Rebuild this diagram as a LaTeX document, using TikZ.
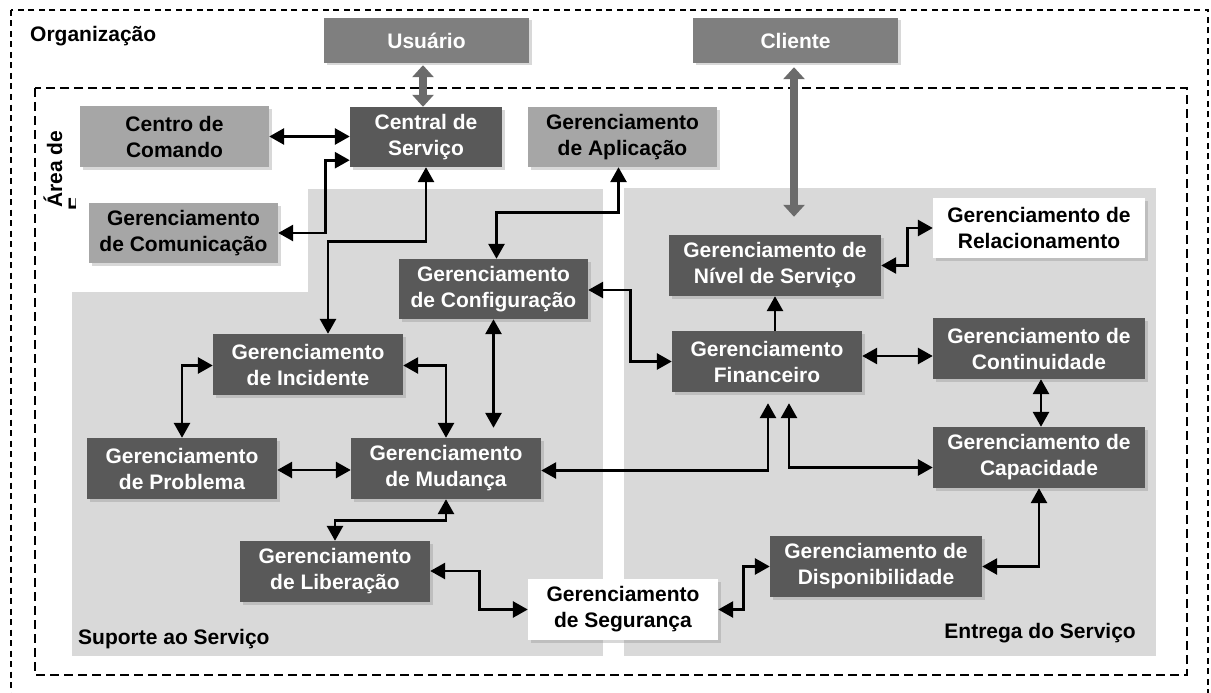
\documentclass[tikz,border=0pt]{standalone}
\usepackage{fontspec}
\setmainfont{Liberation Sans}
\usetikzlibrary{arrows.meta,shadows,calc}

\definecolor{darkbox}{HTML}{595959}
\definecolor{midbox}{HTML}{7F7F7F}
\definecolor{lightbox}{HTML}{A6A6A6}
\definecolor{area}{HTML}{D9D9D9}
\definecolor{fatarrow}{HTML}{6B6B6B}

\begin{document}
\begin{tikzpicture}[x=1pt,y=-1pt,
  txt/.style={font=\bfseries\fontsize{21}{26}\selectfont},
  box/.style={txt, rectangle, inner sep=0pt, align=center,
    minimum height=61pt, minimum width=190pt,
    drop shadow={shadow xshift=2.5pt, shadow yshift=-2.5pt, opacity=0.3}},
  wide/.style={minimum width=212pt},
  darkb/.style={box, fill=darkbox, text=white},
  midb/.style={box, fill=midbox, text=white, minimum height=45pt, minimum width=205pt},
  lightb/.style={box, fill=lightbox, text=black},
  whiteb/.style={box, fill=white, text=black},
  tip/.style={},
  dbl/.style={line width=2.8pt, {Triangle[length=15pt,width=16pt]}-{Triangle[length=15pt,width=16pt]}},
  sgl/.style={line width=2.8pt, -{Triangle[length=15pt,width=16pt]}},
  fat/.style={line width=8pt, draw=fatarrow, {Triangle[length=12pt,width=21pt]}-{Triangle[length=12pt,width=21pt]}},
  frame/.style={draw=black, line width=1.4pt, dash pattern=on 7pt off 4.5pt},
]
\useasboundingbox (0,0) rectangle (1211,693);
\clip (0,0) rectangle (1211,693);
\fill[white] (0,0) rectangle (1211,693);

% service areas
\fill[area] (72,189) rectangle (603,656);
\fill[area] (624,188) rectangle (1156,656);
\fill[white] (72,189) rectangle (308,292);

% rotated area caption
\node[txt, rotate=90, anchor=base west, inner sep=0pt] (areacap) at (62,208) {Área de};
\begin{scope}
  \clip (64,196) rectangle (75,213);
  \node[txt, rotate=90, anchor=base west, inner sep=0pt] (areacap2) at (83,211) {F};
\end{scope}

% dashed frames
\draw[frame, line width=1.2pt, dash pattern=on 6pt off 4.5pt] (11,10) rectangle (1208,720);
\draw[frame, line width=1.8pt, dash pattern=on 9pt off 5pt] (35,88) rectangle (1187,675);

% captions
\node[txt, anchor=west, inner sep=0pt] (org) at (30,36) {Organização};
\node[txt, anchor=west, inner sep=0pt] (sup) at (78,639) {Suporte ao Serviço};
\node[txt, anchor=east, inner sep=0pt] (ent) at (1136,633) {Entrega do Serviço};

% boxes
\node[midb] (usu) at (426.5,40.5) {Usuário};
\node[midb] (cli) at (795.5,40.5) {Cliente};
\node[lightb, minimum width=189pt] (cen) at (174.5,136.5) {Centro de\\Comando};
\node[darkb, minimum width=152pt, minimum height=60pt] (csv) at (426,137) {Central de\\Serviço};
\node[lightb, minimum width=189pt, minimum height=60pt] (apl) at (622.5,137) {Gerenciamento\\de Aplicação};
\node[lightb, minimum width=189pt, minimum height=60pt] (com) at (183.5,233) {Gerenciamento\\de Comunicação};
\node[darkb, minimum width=189pt, minimum height=60pt] (cfg) at (493.5,289) {Gerenciamento\\de Configuração};
\node[darkb] (inc) at (308,364.5) {Gerenciamento\\de Incidente};
\node[darkb] (prb) at (182,468.5) {Gerenciamento\\de Problema};
\node[darkb] (mud) at (446,468.5) {Gerenciamento\\de Mudança};
\node[darkb] (lib) at (335,571.5) {Gerenciamento\\de Liberação};
\node[whiteb] (seg) at (623,609.5) {Gerenciamento\\de Segurança};
\node[whiteb, wide, minimum height=60pt] (rel) at (1039,228) {Gerenciamento de\\Relacionamento};
\node[darkb, wide] (niv) at (775,265.5) {Gerenciamento de\\Nível de Serviço};
\node[darkb] (fin) at (767,361.5) {Gerenciamento\\Financeiro};
\node[darkb, wide] (cont) at (1039,348.5) {Gerenciamento de\\Continuidade};
\node[darkb, wide] (cap) at (1039,457.5) {Gerenciamento de\\Capacidade};
\node[darkb, wide] (disp) at (876,566.5) {Gerenciamento de\\Disponibilidade};

% external links
\draw[fat] ($(usu.south)+(-3.5,2)$) -- ($(csv.north)+(-3,0)$);
\draw[fat] ($(cli.south)+(-1.5,4)$) -- ($(niv.north)+(19,-18)$);

% process links
\draw[dbl] (cen.east) -- (cen.east -| csv.west);
\draw[dbl] (com.east) -- ++(47,0) |- ($(csv.south west)+(0,-7)$);
\draw[dbl] (csv.south) -- ++(0,74) -| ($(inc.north)+(20,0)$);
\draw[dbl] ($(apl.south)+(-4,0)$) -- ++(0,45) -| ($(cfg.north)+(3,0)$);
\draw[dbl] ($(cfg.east)+(0,1)$) -- ++(42,0) |- (fin.west);
\draw[dbl] (cfg.south) -- ($(mud.north -| cfg.south)+(0,-10)$);
\draw[dbl] ($(inc.east)+(0,1)$) -| (mud.north);
\draw[dbl] ($(inc.west)+(0,1)$) -| (prb.north);
\draw[dbl] ($(prb.east)+(0,1.5)$) -- ($(mud.west)+(0,1.5)$);
\draw[dbl] (mud.south) -- ++(0,21) -| (lib.north);
\draw[dbl] ($(mud.east)+(0,2)$) -| ($(fin.south)+(1,11)$);
\draw[dbl] ($(cap.west)+(0,10)$) -| ($(fin.south)+(22,11)$);
\draw[sgl] (fin.north -| niv.south) -- (niv.south);
\draw[dbl] ($(fin.east)+(0,-5.5)$) -- ($(cont.west)+(0,7.5)$);
\draw[dbl] ($(cont.south)+(2,0)$) -- ($(cap.north)+(2,0)$);
\draw[dbl] (cap.south) |- (disp.east);
\draw[dbl] (disp.west) -- ++(-26,0) |- (seg.east);
\draw[dbl] ($(lib.east)+(0,-0.5)$) -- ++(49,0) |- (seg.west);
\draw[dbl] (niv.east) -- ++(26,0) |- (rel.west);
\end{tikzpicture}
\end{document}
